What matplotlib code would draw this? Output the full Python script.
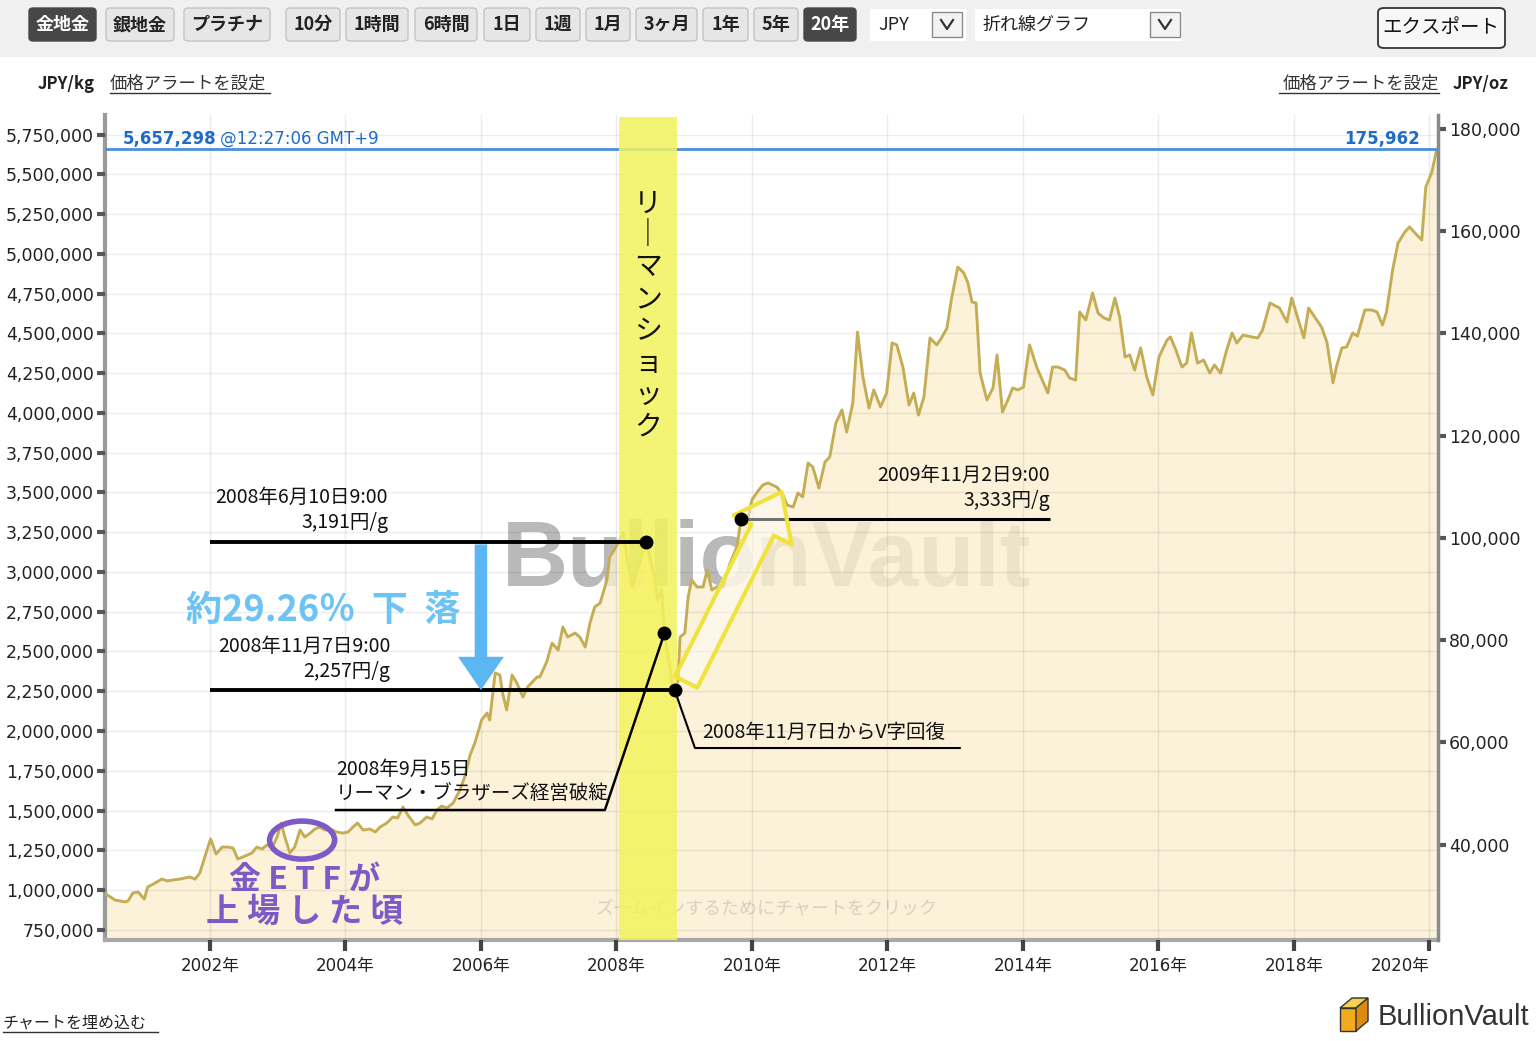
import numpy as np
import matplotlib
matplotlib.use('Agg')
import matplotlib.pyplot as plt
from matplotlib.patches import FancyBboxPatch, Ellipse, FancyArrowPatch, Polygon, Rectangle
from matplotlib.lines import Line2D
from matplotlib.transforms import blended_transform_factory

plt.rcParams['font.family'] = ['Noto Sans CJK JP', 'DejaVu Sans']

# ---------------- data ----------------
years = [2000.46, 2000.60, 2000.75, 2000.79, 2000.86, 2000.94, 2001.03, 2001.08, 2001.19, 2001.29,
         2001.37, 2001.45, 2001.56, 2001.70, 2001.78, 2001.85, 2001.96, 2002.01, 2002.09, 2002.18,
         2002.27, 2002.34, 2002.41, 2002.52, 2002.62, 2002.69, 2002.77, 2002.84, 2002.92, 2002.99,
         2003.05, 2003.11, 2003.18, 2003.25, 2003.33, 2003.40, 2003.48, 2003.55, 2003.62, 2003.70,
         2003.77, 2003.87, 2003.96, 2004.04, 2004.11, 2004.18, 2004.26, 2004.36, 2004.44, 2004.51,
         2004.61, 2004.70, 2004.77, 2004.85, 2004.92, 2005.03, 2005.10, 2005.20, 2005.28, 2005.35,
         2005.42, 2005.50, 2005.59, 2005.69, 2005.76, 2005.84, 2005.91, 2006.01, 2006.09, 2006.13,
         2006.21, 2006.28, 2006.32, 2006.38, 2006.46, 2006.53, 2006.62, 2006.69, 2006.83, 2006.87,
         2006.97, 2007.05, 2007.14, 2007.21, 2007.28, 2007.39, 2007.46, 2007.54, 2007.61, 2007.68,
         2007.76, 2007.86, 2007.90, 2007.95, 2008.05, 2008.10, 2008.17, 2008.24, 2008.35, 2008.44,
         2008.54, 2008.61, 2008.67, 2008.71, 2008.79, 2008.82, 2008.86, 2008.91, 2008.94, 2009.01,
         2009.06, 2009.11, 2009.19, 2009.28, 2009.34, 2009.41, 2009.48, 2009.57, 2009.68, 2009.78,
         2009.84, 2009.93, 2010.00, 2010.07, 2010.16, 2010.24, 2010.37, 2010.46, 2010.52, 2010.61,
         2010.68, 2010.75, 2010.83, 2010.90, 2010.99, 2011.08, 2011.15, 2011.24, 2011.33, 2011.40,
         2011.49, 2011.56, 2011.64, 2011.73, 2011.80, 2011.90, 2011.99, 2012.07, 2012.14, 2012.23,
         2012.32, 2012.39, 2012.46, 2012.54, 2012.63, 2012.73, 2012.80, 2012.88, 2012.95, 2013.04,
         2013.13, 2013.19, 2013.25, 2013.31, 2013.37, 2013.47, 2013.56, 2013.62, 2013.70, 2013.78,
         2013.85, 2013.93, 2014.01, 2014.10, 2014.21, 2014.37, 2014.44, 2014.52, 2014.62, 2014.69,
         2014.78, 2014.84, 2014.93, 2015.03, 2015.11, 2015.20, 2015.28, 2015.36, 2015.43, 2015.51,
         2015.58, 2015.65, 2015.74, 2015.83, 2015.92, 2016.01, 2016.13, 2016.18, 2016.26, 2016.35,
         2016.42, 2016.49, 2016.58, 2016.67, 2016.76, 2016.83, 2016.92, 2017.01, 2017.09, 2017.16,
         2017.25, 2017.32, 2017.38, 2017.47, 2017.54, 2017.65, 2017.79, 2017.90, 2017.97, 2018.06,
         2018.15, 2018.22, 2018.31, 2018.41, 2018.49, 2018.58, 2018.63, 2018.71, 2018.78, 2018.87,
         2018.94, 2019.05, 2019.15, 2019.23, 2019.31, 2019.37, 2019.46, 2019.54, 2019.64, 2019.71,
         2019.79, 2019.89, 2019.95, 2020.04, 2020.11]

# gold price, thousand JPY per kg
price_k_jpy_per_kg = [
    975, 937, 925, 931, 981, 987, 943, 1019, 1044, 1069,
    1057, 1063, 1069, 1082, 1069, 1107, 1258, 1321, 1226, 1270,
    1270, 1264, 1195, 1214, 1233, 1270, 1258, 1283, 1270, 1333,
    1421, 1327, 1233, 1270, 1377, 1333, 1358, 1384, 1396, 1377,
    1384, 1365, 1358, 1365, 1396, 1421, 1377, 1384, 1365, 1396,
    1421, 1459, 1453, 1522, 1472, 1409, 1421, 1459, 1447, 1503,
    1528, 1516, 1547, 1629, 1711, 1849, 1924, 2069, 2113, 2069,
    2365, 2352, 2239, 2132, 2352, 2302, 2214, 2277, 2340, 2340,
    2434, 2553, 2509, 2654, 2591, 2616, 2591, 2528, 2679, 2780,
    2805, 2950, 3094, 3126, 3201, 3245, 3057, 2906, 3075, 3191,
    3012, 2824, 2887, 2616, 2402, 2302, 2257, 2321, 2591, 2616,
    2843, 2950, 2906, 2906, 3012, 2887, 2906, 2906, 3057, 3157,
    3333, 3308, 3453, 3497, 3547, 3560, 3534, 3484, 3421, 3409,
    3497, 3472, 3685, 3660, 3528, 3692, 3723, 3937, 4019, 3880,
    4063, 4509, 4226, 4031, 4145, 4038, 4126, 4440, 4428, 4289,
    4050, 4126, 3987, 4100, 4472, 4428, 4472, 4534, 4723, 4918,
    4880, 4817, 4698, 4692, 4251, 4082, 4157, 4365, 4006, 4082,
    4157, 4145, 4163, 4428, 4283, 4126, 4289, 4289, 4270, 4220,
    4207, 4635, 4585, 4755, 4629, 4597, 4585, 4723, 4604, 4352,
    4365, 4270, 4409, 4226, 4113, 4352, 4459, 4478, 4396, 4289,
    4314, 4503, 4314, 4333, 4251, 4302, 4251, 4396, 4503, 4440,
    4490, 4484, 4478, 4472, 4522, 4692, 4660, 4572, 4723, 4597,
    4472, 4660, 4604, 4541, 4446, 4189, 4289, 4409, 4415, 4503,
    4484, 4648, 4648, 4635, 4553, 4635, 4899, 5069, 5138, 5170,
    5132, 5088, 5421, 5516, 5657]

current_price = 5657298          # JPY/kg
current_time = '@12:27:06 GMT+9'
OZ_PER_KG = 32.1507466

left_ticks = list(range(750000, 5750001, 250000))
right_ticks = list(range(40000, 180001, 20000))
year_ticks = list(range(2002, 2021, 2))

shock_start, shock_end = 2008.04, 2008.89
d_peak, d_bank, d_low, d_rec = 2008.44, 2008.71, 2008.86, 2009.84

buttons = [('金地金', 29, 96, True), ('銀地金', 106, 174, False), ('プラチナ', 184, 270, False),
           ('10分', 286, 340, False), ('1時間', 346, 408, False), ('6時間', 415, 477, False),
           ('1日', 484, 530, False), ('1週', 536, 580, False), ('1月', 586, 630, False),
           ('3ヶ月', 636, 697, False), ('1年', 703, 748, False), ('5年', 754, 798, False),
           ('20年', 804, 856, True)]

# ---------------- figure ----------------
W, H = 1536, 1041
fig = plt.figure(figsize=(W / 100, H / 100), dpi=100)
fig.patch.set_facecolor('white')


def fx(x):
    return x / W


def fy(y):
    return 1 - y / H


# toolbar
fig.add_artist(Rectangle((0, fy(57)), 1, 57 / H, transform=fig.transFigure,
                         facecolor='#f0f0f0', edgecolor='none', zorder=0))
for lab, x0, x1, dark in buttons:
    fig.add_artist(FancyBboxPatch((fx(x0), fy(41)), fx(x1) - fx(x0), 33 / H,
                                  boxstyle='round,pad=0,rounding_size=0.003',
                                  transform=fig.transFigure,
                                  facecolor='#474747' if dark else '#e6e6e6',
                                  edgecolor='#474747' if dark else '#c4c4c4', lw=1))
    fig.text(fx((x0 + x1) / 2), fy(24.5), lab, ha='center', va='center', fontsize=13,
             fontweight='bold', color='white' if dark else '#222222')

for x0, x1, lab, dd0 in [(870, 966, 'JPY', 932), (975, 1182, '折れ線グラフ', 1150)]:
    fig.add_artist(Rectangle((fx(x0), fy(41)), fx(x1) - fx(x0), 32 / H, transform=fig.transFigure,
                             facecolor='white', edgecolor='none'))
    fig.text(fx(x0 + 8), fy(24.5), lab, ha='left', va='center', fontsize=13, color='#222')
    fig.add_artist(Rectangle((fx(dd0), fy(37)), fx(30), 25 / H, transform=fig.transFigure,
                             facecolor='#f3f3f3', edgecolor='#8a8a8a', lw=1))
    fig.add_artist(Line2D([fx(dd0 + 9), fx(dd0 + 15), fx(dd0 + 21)], [fy(20), fy(29), fy(20)],
                          transform=fig.transFigure, color='#333', lw=1.6))

fig.add_artist(FancyBboxPatch((fx(1378), fy(48)), fx(127), 40 / H,
                              boxstyle='round,pad=0,rounding_size=0.004', transform=fig.transFigure,
                              facecolor='#f7f7f7', edgecolor='#333333', lw=1.3))
fig.text(fx(1441), fy(27), 'エクスポート', ha='center', va='center', fontsize=14, color='#111')

# header
fig.text(fx(38), fy(84), 'JPY/kg', ha='left', va='center', fontsize=12, fontweight='bold', color='#222')
fig.text(fx(110), fy(84), '価格アラートを設定', ha='left', va='center', fontsize=12.5, color='#333')
fig.add_artist(Line2D([fx(110), fx(270)], [fy(93), fy(93)], transform=fig.transFigure, color='#333', lw=1))
fig.text(fx(1509), fy(84), 'JPY/oz', ha='right', va='center', fontsize=12, fontweight='bold', color='#222')
fig.text(fx(1439), fy(84), '価格アラートを設定', ha='right', va='center', fontsize=12.5, color='#333')
fig.add_artist(Line2D([fx(1279), fx(1439)], [fy(93), fy(93)], transform=fig.transFigure, color='#333', lw=1))

# ---------------- main axes ----------------
ax = fig.add_axes([fx(105), fy(940), fx(1438) - fx(105), (940 - 115) / H])
ylo, yhi = 685600, 5874000
ax.set_xlim(2000.45, 2020.13)
ax.set_ylim(ylo, yhi)

yrs = np.array(years)
price = np.array(price_k_jpy_per_kg, dtype=float) * 1000.0

# watermark (under semi-transparent fill)
ax.text(2010.21, 3063000, 'BullionVault', ha='center', va='center', fontsize=66, fontweight='bold',
        family=['Liberation Sans', 'DejaVu Sans'], color='#a2a2a2', alpha=0.75, zorder=0.5)

ax.fill_between(yrs, price, 0, color='#fcefd0', alpha=0.78, lw=0, zorder=1)
ax.plot(yrs, price, color='#c5ad55', lw=2.1, zorder=3, solid_joinstyle='round')

ax.set_yticks(left_ticks)
ax.set_yticklabels([f'{v:,}' for v in left_ticks])
ax.set_xticks(year_ticks)
ax.set_xticklabels([f'{y}年' for y in year_ticks])
ax.grid(True, color='black', alpha=0.075, lw=1)
ax.set_axisbelow(False)
for gl in ax.get_xgridlines() + ax.get_ygridlines():
    gl.set_zorder(2)

ax.tick_params(axis='y', direction='out', length=6, width=3, color='#555', labelsize=12.5, pad=2,
               labelcolor='#222')
ax.tick_params(axis='x', direction='out', length=8, width=3, color='#444', labelsize=12, pad=4,
               labelcolor='#222')
for lab in ax.get_yticklabels() + ax.get_xticklabels():
    lab.set_fontfamily(['DejaVu Sans', 'Noto Sans CJK JP'])
ax.get_xticklabels()[-1].set_horizontalalignment('right')

ax.spines['top'].set_visible(False)
ax.spines['left'].set_color('#9a9a9a')
ax.spines['left'].set_linewidth(3)
ax.spines['bottom'].set_color('#a8a8a8')
ax.spines['bottom'].set_linewidth(3)
ax.spines['right'].set_visible(False)

ax2 = ax.twinx()
ax2.set_ylim(ylo / OZ_PER_KG, yhi / OZ_PER_KG)
ax2.set_yticks(right_ticks)
ax2.set_yticklabels([f'{v:,}' for v in right_ticks])
ax2.tick_params(axis='y', direction='out', length=6, width=3, color='#555', labelsize=12.5, pad=2,
                labelcolor='#222')
for lab in ax2.get_yticklabels():
    lab.set_fontfamily(['DejaVu Sans'])
for s in ['top', 'left', 'bottom']:
    ax2.spines[s].set_visible(False)
ax2.spines['right'].set_color('#8a8a8a')
ax2.spines['right'].set_linewidth(2.5)

# current price line
ax.axhline(current_price, color='#4a8fd8', lw=2, zorder=3.5)
bt = blended_transform_factory(ax.transAxes, ax.transData)
ax.annotate(f'{current_price:,}', xy=(0.0135, current_price), xycoords=bt, xytext=(0, 1),
            textcoords='offset points', ha='left', va='bottom', fontsize=12, fontweight='bold',
            color='#1f6cc6', family=['DejaVu Sans'], zorder=7)
ax.annotate(current_time, xy=(0.0865, current_price), xycoords=bt, xytext=(0, 1),
            textcoords='offset points', ha='left', va='bottom', fontsize=12,
            color='#1f6cc6', family=['DejaVu Sans'], zorder=7)
ax.annotate(f'{current_price / OZ_PER_KG:,.0f}', xy=(0.9865, current_price), xycoords=bt, xytext=(0, 1),
            textcoords='offset points', ha='right', va='bottom', fontsize=12, fontweight='bold',
            color='#1f6cc6', family=['DejaVu Sans'], zorder=7)

# Lehman shock band
ax.axvspan(shock_start, shock_end, ymin=0, ymax=0.997, color='#f3f35c', alpha=0.85, lw=0, zorder=4)
ax.text((shock_start + shock_end) / 2, 4616000, '\n'.join(['リ', '｜', 'マ', 'ン', 'シ', 'ョ', 'ッ', 'ク']),
        ha='center', va='center', fontsize=20, linespacing=1.08, color='#111', zorder=5)

# key points
p_peak = np.interp(d_peak, yrs, price)
p_bank = np.interp(d_bank, yrs, price)
p_low = np.interp(d_low, yrs, price)
p_rec = np.interp(d_rec, yrs, price)

ax.plot([2002.0, d_peak], [p_peak, p_peak], color='black', lw=2.8, zorder=6, solid_capstyle='butt')
ax.plot([2002.0, d_low], [p_low, p_low], color='black', lw=2.8, zorder=6, solid_capstyle='butt')
ax.plot([d_rec, 2014.40], [p_rec, p_rec], color='black', lw=2.2, zorder=6, solid_capstyle='butt')
ax.plot([2003.86, 2007.83, d_bank], [1503000, 1503000, p_bank], color='black', lw=1.8, zorder=6)
ax.plot([d_low, 2009.16, 2013.07], [p_low, 1893000, 1893000], color='black', lw=1.5, zorder=6)

ax.plot([d_peak, d_bank, d_low, d_rec], [p_peak, p_bank, p_low, p_rec], 'o', color='black',
        ms=9, zorder=7)

ann_kw = dict(textcoords='offset points', fontsize=14, color='#111', zorder=7, linespacing=1.25)
ax.annotate(f'2008年6月10日9:00\n{p_peak / 1000:,.0f}円/g', xy=(2004.63, p_peak), xytext=(0, 6),
            ha='right', va='bottom', multialignment='right', **ann_kw)
ax.annotate(f'2008年11月7日9:00\n{p_low / 1000:,.0f}円/g', xy=(2004.66, p_low), xytext=(0, 6),
            ha='right', va='bottom', multialignment='right', **ann_kw)
ax.annotate(f'2009年11月2日9:00\n{p_rec / 1000:,.0f}円/g', xy=(2014.40, p_rec), xytext=(0, 6),
            ha='right', va='bottom', multialignment='right', **ann_kw)
ax.annotate('2008年9月15日\nリーマン・ブラザーズ経営破綻', xy=(2003.86, 1503000), xytext=(0, 4),
            ha='left', va='bottom', multialignment='left', **ann_kw)
ax.annotate('2008年11月7日からV字回復', xy=(2009.26, 1893000), xytext=(0, 4),
            ha='left', va='bottom', **ann_kw)

# blue drop arrow
ax.add_patch(FancyArrowPatch((2006.0, p_peak), (2006.0, p_low),
                             arrowstyle='simple,head_length=0.8,head_width=1.1,tail_width=0.3',
                             mutation_scale=30, color='#5cb6f2', lw=0, shrinkA=2, shrinkB=0, zorder=6))
ax.text(2003.67, 2761000, '約29.26％  下  落', ha='center', va='center', fontsize=26,
        fontweight='bold', color='#6ec3f5', zorder=7)

# yellow hollow arrow (V recovery)
ax.add_patch(FancyArrowPatch((2009.03, 2308000), (2010.44, 3503000),
                             arrowstyle='simple,head_length=1.7,head_width=2.6,tail_width=1.0',
                             mutation_scale=18, facecolor=(1, 1, 1, 0.45), edgecolor='#f1e33f',
                             lw=3, shrinkA=0, shrinkB=0, zorder=6))

# ETF annotation
ax.add_patch(Ellipse((2003.36, 1314000), 0.96, 239000, fill=False, edgecolor='#7d5ac6', lw=4, zorder=6))
ax.text(2003.40, 1063000, '金 E T F が', ha='center', va='center', fontsize=23, fontweight='bold',
        color='#7d5ac6', zorder=7)
ax.text(2003.40, 862000, '上 場 し た 頃', ha='center', va='center', fontsize=24, fontweight='bold',
        color='#7d5ac6', zorder=7)

ax.text(2010.22, 887000, 'ズームインするためにチャートをクリック', ha='center', va='center', fontsize=13,
        color='#d8d1c2', zorder=2)

# ---------------- footer ----------------
fig.text(fx(3), fy(1023), 'チャートを埋め込む', ha='left', va='center', fontsize=11.5, color='#222')
fig.add_artist(Line2D([fx(3), fx(158)], [fy(1032), fy(1032)], transform=fig.transFigure, color='#333', lw=1))

def P(pts):
    return [(fx(x), fy(y)) for x, y in pts]

fig.add_artist(Polygon(P([(1340, 1008), (1352, 998), (1368, 998), (1356, 1008)]), closed=True,
                       transform=fig.transFigure, facecolor='#f8cf55', edgecolor='#333', lw=1))
fig.add_artist(Polygon(P([(1340, 1008), (1356, 1008), (1356, 1031), (1340, 1031)]), closed=True,
                       transform=fig.transFigure, facecolor='#f2ab1c', edgecolor='#333', lw=1))
fig.add_artist(Polygon(P([(1356, 1008), (1368, 998), (1368, 1021), (1356, 1031)]), closed=True,
                       transform=fig.transFigure, facecolor='#d98b12', edgecolor='#333', lw=1))
fig.text(fx(1378), fy(1017), 'BullionVault', ha='left', va='center', fontsize=21,
         family=['Liberation Sans', 'DejaVu Sans'], color='#333')

fig.savefig('out.png', dpi=100)
